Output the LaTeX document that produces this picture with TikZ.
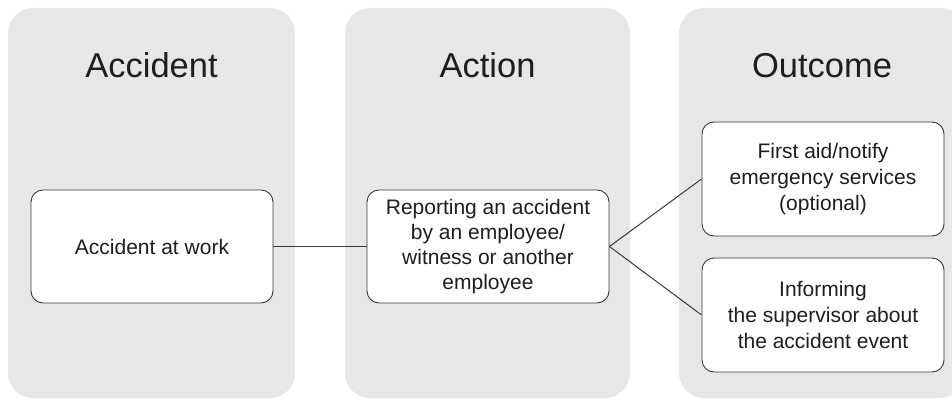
\documentclass[tikz,border=0pt]{standalone}
\usepackage{fontspec}
\setmainfont{Liberation Sans}
\usetikzlibrary{positioning}
\definecolor{PanelGrey}{RGB}{230,231,232}
\definecolor{LineGrey}{RGB}{58,58,58}
\definecolor{TextGrey}{RGB}{30,30,30}

\begin{document}
\begin{tikzpicture}[x=1pt,y=-1pt,
  panel/.style={fill=PanelGrey,rounded corners=25pt,minimum width=287pt,minimum height=390pt,inner sep=0pt},
  title/.style={anchor=base,text=TextGrey,font=\fontsize{34.5}{40}\selectfont},
  stepbox/.style={draw=LineGrey,line width=0.9pt,fill=white,rounded corners=12pt,align=center,
    minimum width=242pt,minimum height=113pt,inner sep=0pt,text=TextGrey,font=\fontsize{21}{25}\selectfont},
  link/.style={draw=LineGrey,line width=1pt}]
\useasboundingbox (0,0) rectangle (952,401);
\clip (0,0) rectangle (952,401);
\node[panel] (p1) at (151.5,203) {};
\node[panel,minimum width=285pt] (p2) at (487.5,203) {};
\node[panel,minimum width=286pt] (p3) at (822,203) {};
\node[title] (t1) at (151.5,78) {Accident};
\node[title] (t2) at (487.5,78) {Action};
\node[title] (t3) at (822,78) {Outcome};
\node[stepbox] (a) at (152,246.5) {Accident at work};
\node[stepbox] (b) at (488,246.5) {Reporting an accident\\by an employee/\\witness or another\\employee};
\node[stepbox,minimum height=114pt,font=\fontsize{21}{26}\selectfont] (c) at (823,179) {First aid/notify\\emergency services\\(optional)};
\node[stepbox,minimum height=114pt,font=\fontsize{21}{26}\selectfont] (d) at (823,315) {Informing\\the supervisor about\\the accident event};
\draw[link] (a) -- (b);
\draw[link] (b.east) -- (c.west);
\draw[link] (b.east) -- (d.west);
\end{tikzpicture}
\end{document}
